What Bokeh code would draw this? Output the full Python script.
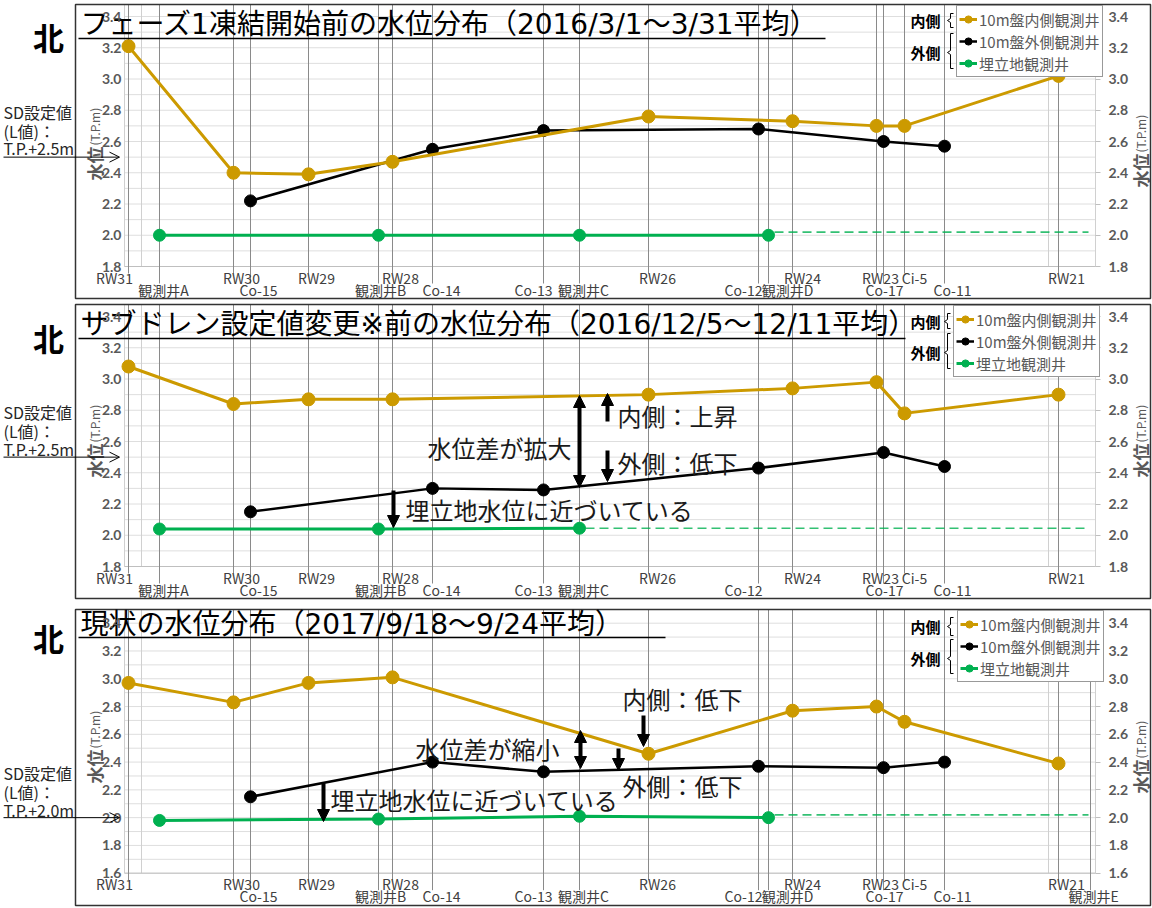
import math
from bokeh.plotting import figure
from bokeh.models import (Range1d, LinearAxis, FixedTicker, PrintfTickFormatter, Arrow,
                          NormalHead, OpenHead, Legend, LegendItem)
from bokeh.layouts import column
from bokeh.core.properties import value
from bokeh.embed import file_html
from bokeh.resources import INLINE

# ---------------- data ----------------
wells = ["RW31", "観測井A", "RW30", "Co-15", "RW29", "観測井B", "RW28", "Co-14", "Co-13",
         "観測井C", "RW26", "Co-12", "観測井D", "RW24", "RW23", "Co-17", "Ci-5", "Co-11",
         "RW21", "観測井E"]
well_pos = [128, 159, 233, 250, 308, 378, 392, 432, 543, 579, 648, 758, 768, 792, 876, 883,
            904, 944, 1058, 1090]

inner_wells = ["RW31", "RW30", "RW29", "RW28", "RW26", "RW24", "RW23", "Ci-5", "RW21"]
outer_wells = ["Co-15", "Co-14", "Co-13", "Co-12", "Co-17", "Co-11"]
land_wells = ["観測井A", "観測井B", "観測井C", "観測井D"]

titles = ["フェーズ1凍結開始前の水位分布（2016/3/1～3/31平均）",
          "サブドレン設定値変更※前の水位分布（2016/12/5～12/11平均）",
          "現状の水位分布（2017/9/18～9/24平均）"]

inner_p1 = [3.21, 2.40, 2.39, 2.47, 2.76, 2.73, 2.70, 2.70, 3.02]
inner_p2 = [3.08, 2.84, 2.87, 2.87, 2.90, 2.94, 2.98, 2.78, 2.90]
inner_p3 = [2.97, 2.83, 2.97, 3.01, 2.46, 2.77, 2.80, 2.69, 2.39]

outer_p1 = [2.22, 2.55, 2.67, 2.68, 2.60, 2.57]
outer_p2 = [2.15, 2.30, 2.29, 2.43, 2.53, 2.44]
outer_p3 = [2.15, 2.40, 2.33, 2.37, 2.36, 2.40]

land_p1 = [2.00, 2.00, 2.00, 2.00]
land_p2 = [2.04, 2.04, 2.045]
land_p3 = [1.98, 1.99, 2.01, 2.00]

land_dash_from = ["観測井D", "観測井C", "観測井D"]
land_dash_val = [2.02, 2.045, 2.02]

sd_text = ["T.P.+2.5m", "T.P.+2.5m", "T.P.+2.0m"]
sd_level = [2.5, 2.5, 2.0]

y_min = [1.8, 1.8, 1.6]
y_max = 3.4

legend_labels = ["10m盤内側観測井", "10m盤外側観測井", "埋立地観測井"]

shown_p1 = ["RW31", "観測井A", "RW30", "Co-15", "RW29", "観測井B", "RW28", "Co-14", "Co-13",
            "観測井C", "RW26", "Co-12", "観測井D", "RW24", "RW23", "Co-17", "Ci-5", "Co-11", "RW21"]
shown_p2 = ["RW31", "観測井A", "RW30", "Co-15", "RW29", "観測井B", "RW28", "Co-14", "Co-13",
            "観測井C", "RW26", "Co-12", "RW24", "RW23", "Co-17", "Ci-5", "Co-11", "RW21"]
shown_p3 = ["RW31", "RW30", "Co-15", "RW29", "観測井B", "RW28", "Co-14", "Co-13",
            "観測井C", "RW26", "Co-12", "観測井D", "RW24", "RW23", "Co-17", "Ci-5", "Co-11",
            "RW21", "観測井E"]

notes_p2 = ["内側：上昇", "水位差が拡大", "外側：低下", "埋立地水位に近づいている"]
notes_p3 = ["内側：低下", "水位差が縮小", "外側：低下", "埋立地水位に近づいている"]

inner_vals = [inner_p1, inner_p2, inner_p3]
outer_vals = [outer_p1, outer_p2, outer_p3]
land_vals = [land_p1, land_p2, land_p3]
shown = [shown_p1, shown_p2, shown_p3]
notes = [[], notes_p2, notes_p3]

# ---------------- layout / style ----------------
GOLD = "#CC9A00"
BLACK = "#000000"
GREEN = "#00B050"
FONT_NAME = "Noto Sans CJK JP"
FONT = value(FONT_NAME)
TITLE_FONT = value("DejaVu Sans, Noto Sans CJK JP")

label_x = {"RW31": 114, "観測井A": 163, "RW30": 241, "Co-15": 258, "RW29": 316, "観測井B": 380,
           "RW28": 400, "Co-14": 441, "Co-13": 533, "観測井C": 583, "RW26": 657, "Co-12": 743,
           "観測井D": 787, "RW24": 802, "RW23": 880, "Co-17": 884, "Ci-5": 914, "Co-11": 952,
           "RW21": 1066, "観測井E": 1093}

PANELS = [
    dict(top=0, h=302, y34=16, ppu=156.25, box=(4, 298), title_y=24, ul_y=38, ul_x1=825,
         kita_y=36, sd_y=(111, 130, 147), leg=(956, 77), in_y=20, out_y=52,
         br_in=(13, 27), br_out=(33, 68), br_x=950, yl=(180, 187),
         note_pos=[], arrows=[]),
    dict(top=302, h=301, y34=316, ppu=156.25, box=(304, 598), title_y=324, ul_y=338, ul_x1=905,
         kita_y=337, sd_y=(411, 430, 448), leg=(953, 377), in_y=321, out_y=352,
         br_in=(313, 328), br_out=(333, 368), br_x=947, yl=(477, 477),
         note_pos=[(617, 415), (427, 447), (617, 462), (405, 509)],
         arrows=[(579, 395, 487, True), (607, 421, 393, False), (607, 450, 481, False),
                 (393, 490, 527, False)]),
    dict(top=603, h=305, y34=622.7, ppu=138.89, box=(609, 905), title_y=624, ul_y=637, ul_x1=665,
         kita_y=637, sd_y=(772, 791, 809), leg=(957, 682), in_y=626, out_y=658,
         br_in=(617, 635), br_out=(639, 673), br_x=950, yl=(783, 793),
         note_pos=[(622, 698), (415, 748), (622, 785), (330, 799)],
         arrows=[(643, 715, 746, False), (580, 730, 768, True), (618, 748, 770, False),
                 (323, 783, 821, False)]),
]

xpos = dict(zip(wells, well_pos))


def make_panel(k):
    L = PANELS[k]
    top, h, y34, ppu = L["top"], L["h"], L["y34"], L["ppu"]
    ymin = y_min[k]

    def Y(py):
        return y_max - (py - y34) / ppu

    axis_bottom = y34 + (y_max - ymin) * ppu
    box_top, box_bot = L["box"]

    p = figure(width=1152, height=h, x_range=Range1d(0, 1152),
               y_range=Range1d(Y(top + h), Y(top)), title=None,
               x_axis_location=None, y_axis_location=None, toolbar_location=None,
               output_backend="svg", min_border=0, outline_line_color=None)
    p.grid.visible = False
    p.background_fill_color = "white"

    # gridlines every 0.1
    n = int(round((y_max - ymin) / 0.1))
    gy = [round(ymin + 0.1 * i, 2) for i in range(n + 1)]
    p.segment(x0=[124] * len(gy), x1=[1095] * len(gy), y0=gy, y1=gy,
              line_color="#dedede", line_width=1)
    # light vertical lines
    lv = [124, 141, 1048, 1095]
    p.segment(x0=lv, x1=lv, y0=[Y(box_top)] * 4, y1=[ymin] * 4, line_color="#d0d0d0", line_width=1)
    p.segment(x0=[124], x1=[1095], y0=[ymin], y1=[ymin], line_color="#bfbfbf", line_width=1)

    # dark well lines
    xs, y0s, y1s = [], [], []
    for w in shown[k]:
        row1 = w.startswith("RW") or w.startswith("Ci")
        xs.append(xpos[w])
        y0s.append(Y(box_top))
        y1s.append(Y(axis_bottom + (7 if row1 else 17)))
    p.segment(x0=xs, x1=xs, y0=y0s, y1=y1s, line_color="#8a8a8a", line_width=1)

    # axes (fixed location, inside box)
    ticks = [round(ymin + 0.2 * i, 1) for i in range(int(round((y_max - ymin) / 0.2)) + 1)]
    for loc, side, tout, stand in [(124, "left", 0, 3), (1095, "right", 5, 8)]:
        ax = LinearAxis(fixed_location=loc, ticker=FixedTicker(ticks=ticks),
                        formatter=PrintfTickFormatter(format="%.1f"), bounds=(ymin, y_max),
                        axis_line_color=None, major_tick_line_color="#bfbfbf",
                        minor_tick_line_color=None, major_tick_out=tout, major_tick_in=0,
                        major_label_standoff=stand, major_label_text_font="Lato",
                        major_label_text_font_size="14px", major_label_text_font_style="bold",
                        major_label_text_color="#595959")
        p.add_layout(ax, side)

    # series
    ix = [xpos[w] for w in inner_wells]
    ox = [xpos[w] for w in outer_wells]
    lw = land_wells[:len(land_vals[k])]
    lx = [xpos[w] for w in lw]
    dx0 = xpos[land_dash_from[k]]
    p.line([dx0 + 6, 1088], [land_dash_val[k]] * 2, line_color=GREEN, line_alpha=0.8,
           line_width=1.6, line_dash="9 5")
    g1 = p.line(lx, land_vals[k], line_color=GREEN, line_width=3)
    g2 = p.scatter(lx, land_vals[k], size=12, fill_color=GREEN, line_color=GREEN)
    b1 = p.line(ox, outer_vals[k], line_color=BLACK, line_width=2.5)
    b2 = p.scatter(ox, outer_vals[k], size=12, fill_color=BLACK, line_color=BLACK)
    a1 = p.line(ix, inner_vals[k], line_color=GOLD, line_width=3)
    a2 = p.scatter(ix, inner_vals[k], size=13, fill_color=GOLD, line_color=GOLD)

    # bottom labels
    r1 = [w for w in shown[k] if w.startswith("RW") or w.startswith("Ci")]
    r2 = [w for w in shown[k] if w not in r1]
    p.text(x=[label_x[w] for w in r1], y=[Y(axis_bottom + 11)] * len(r1), text=r1,
           text_font=FONT, text_font_size="14px", text_color="#404040",
           text_align="center", text_baseline="middle")
    p.text(x=[label_x[w] for w in r2], y=[Y(axis_bottom + 23)] * len(r2), text=r2,
           text_font=FONT, text_font_size="14px", text_color="#404040",
           text_align="center", text_baseline="middle")

    # axis titles (rotated)
    for xx, yb in [(94, L["yl"][0]), (1140, L["yl"][1])]:
        p.text(x=[xx], y=[Y(yb)], text=["水位"], angle=math.pi / 2, text_font=FONT,
               text_font_size="17px", text_font_style="bold", text_color="#595959",
               text_align="left", text_baseline="middle")
        p.text(x=[xx], y=[Y(yb - 35)], text=["(T.P.m)"], angle=math.pi / 2, text_font=FONT,
               text_font_size="12px", text_color="#595959",
               text_align="left", text_baseline="middle")

    # box
    p.quad(left=[75], right=[1150], top=[Y(box_top)], bottom=[Y(box_bot)], fill_color=None,
           line_color="#333333", line_width=1.5)

    # title + underline
    p.text(x=[80], y=[Y(L["title_y"])], text=[titles[k]], text_font=TITLE_FONT,
           text_font_size="28px", text_color="black", text_align="left", text_baseline="middle")
    p.segment(x0=[78], x1=[L["ul_x1"]], y0=[Y(L["ul_y"])], y1=[Y(L["ul_y"])],
              line_color="black", line_width=1.5)

    # 北
    p.text(x=[48], y=[Y(L["kita_y"])], text=["北"], text_font=FONT, text_font_size="31px",
           text_font_style="bold", text_color="black", text_align="center",
           text_baseline="middle")

    # SD text + arrow
    p.text(x=[3, 3, 3], y=[Y(v) for v in L["sd_y"]], text=["SD設定値", "(L値)：", sd_text[k]],
           text_font=FONT, text_font_size="16px", text_color="#262626",
           text_align="left", text_baseline="middle")
    p.add_layout(Arrow(end=OpenHead(size=10, line_width=1, line_color="black"),
                       x_start=3, y_start=sd_level[k], x_end=119, y_end=sd_level[k],
                       line_width=1, line_color="black"))

    # legend side labels and brackets
    p.text(x=[925, 925], y=[Y(L["in_y"]), Y(L["out_y"])], text=["内側", "外側"], text_font=FONT,
           text_font_size="15px", text_font_style="bold", text_color="black",
           text_align="center", text_baseline="middle")
    bx = L["br_x"]
    brs_x, brs_y = [], []
    for (ya, yb2), ym in [(L["br_in"], L["in_y"]), (L["br_out"], L["out_y"])]:
        brs_x.append([bx + 3, bx, bx, bx - 3, bx, bx, bx + 3])
        brs_y.append([Y(ya), Y(ya), Y(ym - 2), Y(ym), Y(ym + 2), Y(yb2), Y(yb2)])
    p.multi_line(brs_x, brs_y, line_color="black", line_width=1)

    # legend
    leg = Legend(items=[LegendItem(label=legend_labels[0], renderers=[a1, a2]),
                        LegendItem(label=legend_labels[1], renderers=[b1, b2]),
                        LegendItem(label=legend_labels[2], renderers=[g1, g2])],
                 location=(L["leg"][0], top + h - L["leg"][1]),
                 border_line_color="#333333", border_line_width=1,
                 background_fill_color="white", background_fill_alpha=1,
                 label_text_font=FONT_NAME, label_text_font_size="15px",
                 label_text_color="#595959",
                 glyph_width=18, glyph_height=22, label_height=20, label_standoff=2,
                 spacing=0, padding=2, margin=0)
    p.add_layout(leg)

    # annotations
    if notes[k]:
        p.text(x=[q[0] for q in L["note_pos"]], y=[Y(q[1]) for q in L["note_pos"]],
               text=notes[k], text_font=FONT, text_font_size="24px", text_color="#1a1a1a",
               text_align="left", text_baseline="middle")
        for ax_, ys, ye, both in L["arrows"]:
            p.add_layout(Arrow(
                start=NormalHead(size=12, fill_color="black", line_color="black") if both else None,
                end=NormalHead(size=12, fill_color="black", line_color="black"),
                x_start=ax_, y_start=Y(ys), x_end=ax_, y_end=Y(ye),
                line_width=4, line_color="black"))
    return p


figs = [make_panel(k) for k in range(3)]
layout = column(*figs, spacing=0)
open("out.html", "w").write(file_html(layout, INLINE))
